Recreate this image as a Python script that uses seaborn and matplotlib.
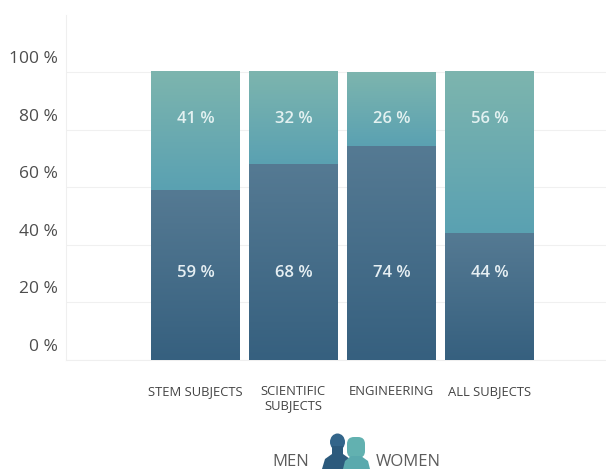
import numpy as np
import pandas as pd
import matplotlib
matplotlib.use("Agg")
import matplotlib.pyplot as plt
from matplotlib.colors import LinearSegmentedColormap
from matplotlib.patches import Ellipse, Polygon, FancyBboxPatch
from matplotlib.transforms import ScaledTranslation
import seaborn as sns

categories = ["STEM SUBJECTS", "SCIENTIFIC\nSUBJECTS", "ENGINEERING", "ALL SUBJECTS"]
men = [59, 68, 74, 44]
women = [41, 32, 26, 56]
y_ticks = [0, 20, 40, 60, 80, 100]

sns.set_theme(style="white")
plt.rcParams["font.family"] = ["Open Sans", "DejaVu Sans"]

W, H = 606, 469
fig = plt.figure(figsize=(W / 100, H / 100), dpi=100)
ax = fig.add_axes([66 / W, 1 - 360 / H, (606 - 66) / W, (359.5 - 14) / H])

df = pd.DataFrame({"category": categories, "men": men, "women": women})
df["total"] = df["men"] + df["women"]

sns.barplot(data=df, x="category", y="total", color="#62a5ad", width=0.908,
            saturation=1, ax=ax, zorder=2)
n_top = len(ax.patches)
sns.barplot(data=df, x="category", y="men", color="#3f6584", width=0.908,
            saturation=1, ax=ax, zorder=3)

women_cmap = LinearSegmentedColormap.from_list("women", ["#5aa1b2", "#7db5ae"])
men_cmap = LinearSegmentedColormap.from_list("men", ["#36607f", "#557a93"])

# Vertical gradient fill inside each bar segment.
for i, bar in enumerate(list(ax.patches)):
    x0, y0 = bar.get_x(), bar.get_y()
    x1, y1 = x0 + bar.get_width(), y0 + bar.get_height()
    if i < n_top:
        cmap, y0 = women_cmap, men[i]
    else:
        cmap = men_cmap
    grad = np.linspace(0, 1, 256).reshape(-1, 1)
    ax.imshow(grad, extent=[x0, x1, y0, y1], origin="lower", cmap=cmap,
              aspect="auto", zorder=bar.get_zorder() + 0.5)
    bar.set_visible(False)

# Category 0 sits about 1.3 bar pitches right of the axis edge.
ax.set_xlim(-1.321, 4.19)
ax.set_ylim(0, 120)

# Value labels sit on one shared line per series.
for i in range(len(categories)):
    ax.text(i, 83.7, f"{women[i]} %", ha="center", va="center",
            color="#e3f1f1", fontsize=12, fontweight="semibold", zorder=6)
    ax.text(i, 30.3, f"{men[i]} %", ha="center", va="center",
            color="#e6eff3", fontsize=12, fontweight="semibold", zorder=6)

ax.set_yticks(y_ticks)
ax.set_yticklabels([f"{v} %" for v in y_ticks], color="#4d4d4d", fontsize=12.5)
ax.set_xticks(range(len(categories)))
ax.set_xticklabels(categories, color="#444444", fontsize=9.4, linespacing=1.1,
                   fontweight="medium")
ax.tick_params(axis="x", length=0, pad=18)
ax.tick_params(axis="y", length=0, pad=6)
lift = ScaledTranslation(0, 15 / 100, fig.dpi_scale_trans)
for label in ax.get_yticklabels():
    label.set_transform(label.get_transform() + lift)
ax.set_xlabel("")
ax.set_ylabel("")
ax.grid(axis="y", color="#f0f0f0", linewidth=0.8, zorder=0)
ax.set_axisbelow(True)
for side in ("top", "right"):
    ax.spines[side].set_visible(False)
for side in ("left", "bottom"):
    ax.spines[side].set_color("#efefef")
    ax.spines[side].set_linewidth(0.8)

# Legend: two head-and-shoulders figures between the labels.
fig.text(309 / W, 1 - 462 / H, "MEN", ha="right", va="center", color="#5c5c5c", fontsize=12)
fig.text(376 / W, 1 - 462 / H, "WOMEN", ha="left", va="center", color="#5c5c5c", fontsize=12)

icon = fig.add_axes([0, 0, 1, 1], facecolor="none")
icon.set_xlim(0, W)
icon.set_ylim(H, 0)
icon.axis("off")
# Man
icon.add_patch(Ellipse((337.5, 442), 15, 17, color="#33658a", lw=0, zorder=2))
icon.add_patch(Polygon([(332, 446), (343, 446), (343, 454), (350, 459), (352, 469),
                        (322, 469), (325, 459), (332, 454)],
                       closed=True, color="#2c5a7c", lw=0, zorder=2))
# Woman
icon.add_patch(FancyBboxPatch((347, 437), 18, 21, boxstyle="round,pad=0,rounding_size=7",
                              color="#62b1b0", lw=0, zorder=3))
icon.add_patch(Polygon([(351, 456), (361, 456), (368, 461), (370, 469), (343, 469), (345, 461)],
                       closed=True, color="#5aa9ad", lw=0, zorder=3))

fig.savefig("out.png", dpi=100, facecolor="white")
